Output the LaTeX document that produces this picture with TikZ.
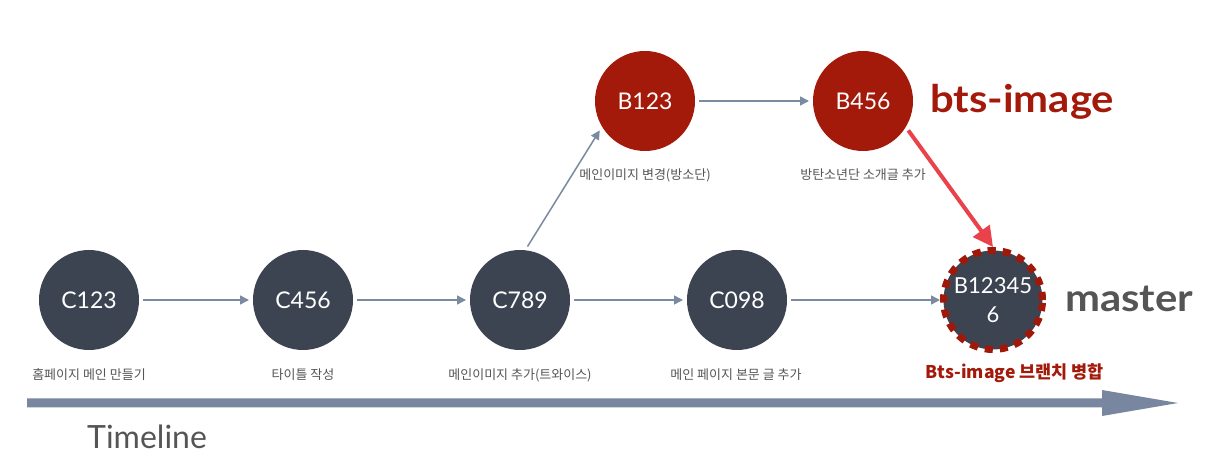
\documentclass[tikz,border=0pt]{standalone}
\usepackage{fontspec}
\setmainfont{Lato}
\newfontfamily\kr{Noto Sans CJK KR}
\usetikzlibrary{arrows.meta}
\definecolor{commitfill}{HTML}{3D4451}
\definecolor{branchfill}{HTML}{A3190A}
\definecolor{ringred}{HTML}{A0180A}
\definecolor{linkblue}{HTML}{7A8AA0}
\definecolor{mergered}{HTML}{E9424B}
\definecolor{labelgray}{HTML}{555555}
\definecolor{timeblue}{HTML}{7886A0}
\begin{document}
\begin{tikzpicture}[x=1pt,y=1pt,
  commitnode/.style={circle,fill=commitfill,minimum size=100pt,inner sep=0pt,text=white,
    font=\fontsize{23}{28}\selectfont,outer sep=4pt},
  branchnode/.style={commitnode,fill=branchfill},
  mergenode/.style={commitnode,draw=ringred,line width=7pt,dash pattern=on 8pt off 7pt,
    minimum size=99pt,align=center,outer sep=3.5pt,font=\fontsize{22}{29}\selectfont},
  flow/.style={draw=linkblue,line width=1.5pt,-{Triangle[length=9pt,width=9pt]}},
  mergeflow/.style={draw=mergered,line width=4pt,-{Triangle[length=20pt,width=20pt]}},
  lbl/.style={text=labelgray,font=\kr\fontsize{13}{15}\selectfont,inner sep=0pt},
  branchname/.style={font=\fontsize{38}{40}\selectfont\bfseries,inner sep=0pt,anchor=base west},
]
\useasboundingbox (0,0) rectangle (1213,466);
\fill[white] (0,0) rectangle (1213,466);

% commits
\node[commitnode] (c123) at (89,166) {C123};
\node[commitnode] (c456) at (303,166) {C456};
\node[commitnode] (c789) at (520,166) {C789};
\node[commitnode] (c098) at (737,166) {C098};
\node[mergenode] (m) at (993,166) {B12345\\6};
\node[branchnode] (b123) at (645,365) {B123};
\node[branchnode] (b456) at (863,365) {B456};

% connectors
\draw[flow] (c123) -- (c456);
\draw[flow] (c456) -- (c789);
\draw[flow] (c789) -- (c098);
\draw[flow] (c098) -- (m);
\draw[flow] (b123) -- (b456);
\draw[flow] (c789.82) -- (b123.213);
\draw[mergeflow] (b456.-33) -- (m.north);

% labels
\node[lbl] (l1) at (89,91) {홈페이지 메인 만들기};
\node[lbl] (l2) at (303,91) {타이틀 작성};
\node[lbl] (l3) at (520,91) {메인이미지 추가(트와이스)};
\node[lbl] (l4) at (736,91) {메인 페이지 본문 글 추가};
\node[lbl] (l5) at (645,291) {메인이미지 변경(방소단)};
\node[lbl] (l6) at (863,291) {방탄소년단 소개글 추가};
\node[text=branchfill,font=\kr\bfseries\fontsize{17.5}{20}\selectfont,inner sep=0pt] (l7) at (1015,93) {Bts-image 브랜치 병합};

% branch names
\node[branchname,text=branchfill] (bts) at (930,353) {\scalebox{1.1}[1]{bts-image}};
\node[branchname,text=labelgray] (master) at (1065,154) {\scalebox{1.1}[1]{master}};

% timeline
\fill[timeblue] (27,58.5) -- (1102,58.5) -- (1102,50) -- (1178,63) -- (1102,76) -- (1102,67.5) -- (27,67.5) -- cycle;
\node[anchor=base west,text=labelgray,font=\fontsize{32}{36}\selectfont,inner sep=0pt] (tl) at (87,18) {Timeline};
\end{tikzpicture}
\end{document}
